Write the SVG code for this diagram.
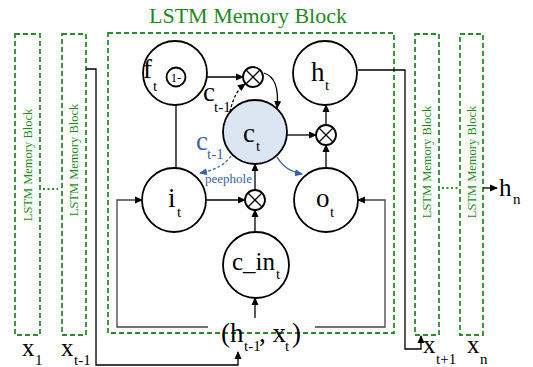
<svg xmlns="http://www.w3.org/2000/svg" width="533" height="367" viewBox="0 0 533 367">
<defs>
<marker id="ah" markerWidth="8" markerHeight="8" refX="7" refY="4" orient="auto" markerUnits="userSpaceOnUse"><path d="M0,0.5 L8,4 L0,7.5 z" fill="#000"/></marker>
<marker id="ahb" markerWidth="8" markerHeight="8" refX="7" refY="4" orient="auto" markerUnits="userSpaceOnUse"><path d="M0,0.5 L8,4 L0,7.5 z" fill="#3a62a8"/></marker>
<style>
.blk{fill:none;stroke:#2b8c2b;stroke-width:1.8;stroke-dasharray:5,3}
.gt{fill:#1d8a1d;font-family:"Liberation Serif",serif}
.node{fill:#fff;stroke:#000;stroke-width:1.8}
.t{font-family:"Liberation Serif",serif;fill:#000}
.m{font-size:27px}
.s{font-size:15px}
.ln{fill:none;stroke:#000;stroke-width:1.3}
.fb{fill:none;stroke:#444;stroke-width:1.3}
.bl{fill:#3a62a8;font-family:"Liberation Serif",serif}
</style>
</defs>

<g id="block-main">
<rect class="blk" x="108" y="33" width="286" height="300"/>
<text class="gt" x="248" y="23" font-size="22" text-anchor="middle">LSTM Memory Block</text>
</g>
<g id="block-1"><rect class="blk" x="15" y="34" width="25" height="301"/><text class="gt" font-size="12.5" text-anchor="middle" transform="translate(32,165) rotate(-90)">LSTM Memory Block</text></g>
<g id="block-2"><rect class="blk" x="62" y="34" width="24" height="301"/><text class="gt" font-size="12.5" text-anchor="middle" transform="translate(78,160) rotate(-90)">LSTM Memory Block</text></g>
<g id="block-3"><rect class="blk" x="415" y="34" width="24" height="301"/><text class="gt" font-size="12.5" text-anchor="middle" transform="translate(431,162) rotate(-90)">LSTM Memory Block</text></g>
<g id="block-4"><rect class="blk" x="460" y="34" width="23" height="301"/><text class="gt" font-size="12.5" text-anchor="middle" transform="translate(476,162) rotate(-90)">LSTM Memory Block</text></g>
<g id="dots">
<line x1="43" y1="189" x2="58" y2="189" stroke="#2b8c2b" stroke-width="2" stroke-dasharray="2,2.5"/>
<line x1="442" y1="188" x2="458" y2="188" stroke="#2b8c2b" stroke-width="2" stroke-dasharray="2,2.5"/>
</g>

<g id="connectors">
<line class="ln" x1="187" y1="77" x2="243" y2="77" marker-end="url(#ah)"/>
<line class="ln" x1="176" y1="86" x2="176" y2="168"/>
<path class="ln" d="M230,112 Q234,92 245,84" stroke-dasharray="3,2" marker-end="url(#ah)"/>
<path class="ln" d="M264,73 Q280,78 277,108" marker-end="url(#ah)"/>
<line class="ln" x1="287" y1="135" x2="316" y2="135" marker-end="url(#ah)"/>
<line class="ln" x1="326" y1="125" x2="326" y2="105" marker-end="url(#ah)"/>
<line class="ln" x1="326" y1="168" x2="326" y2="145" marker-end="url(#ah)"/>
<line class="ln" x1="207" y1="200" x2="245" y2="200" marker-end="url(#ah)"/>
<line class="ln" x1="255" y1="190" x2="255" y2="164" marker-end="url(#ah)"/>
<line class="ln" x1="255" y1="232" x2="255" y2="210" marker-end="url(#ah)"/>
<line class="ln" x1="255" y1="318" x2="255" y2="298" marker-end="url(#ah)"/>
<path d="M231,156 Q222,169 200,173" fill="none" stroke="#3a62a8" stroke-width="1.3" stroke-dasharray="3,2" marker-end="url(#ahb)"/>
<path d="M277,157 Q285,171 302,174" fill="none" stroke="#3a62a8" stroke-width="1.3" marker-end="url(#ahb)"/>
<path class="fb" d="M208,327 H117 V200 H142" marker-end="url(#ah)"/>
<path class="fb" d="M315,327 H385 V200 H358" marker-end="url(#ah)"/>
<path class="ln" d="M358,70 H405 V349 H421 V336" marker-end="url(#ah)"/>
<path class="ln" d="M86,69 H96 V365 H238 V352" marker-end="url(#ah)"/>
<line class="ln" x1="483" y1="188" x2="497" y2="188" marker-end="url(#ah)"/>
</g>

<g id="f_t"><circle class="node" cx="175" cy="73" r="32"/><text class="t m" x="143" y="78">f</text><text class="t s" x="153" y="91">t</text></g>
<g id="one-minus"><circle class="node" cx="176" cy="77" r="9.5"/><text class="t" x="176" y="81.5" font-size="12.5" text-anchor="middle">1-</text></g>
<g id="h_t"><circle class="node" cx="325" cy="73" r="32"/><text class="t m" x="311" y="81">h</text><text class="t s" x="325" y="90">t</text></g>
<g id="c_t"><circle cx="255" cy="132" r="32" fill="#dce6f2" stroke="#000" stroke-width="1.8"/><text class="t m" x="243" y="142">c</text><text class="t s" x="256" y="151">t</text></g>
<g id="i_t"><circle class="node" cx="174" cy="200" r="32"/><text class="t m" x="168" y="207">i</text><text class="t s" x="177" y="217">t</text></g>
<g id="o_t"><circle class="node" cx="326" cy="200" r="32"/><text class="t m" x="316" y="207">o</text><text class="t s" x="330" y="217">t</text></g>
<g id="c_in_t"><circle class="node" cx="256" cy="265" r="33"/><text class="t" font-size="25" x="232" y="270">c_in</text><text class="t s" x="276" y="279">t</text></g>
<g id="mult-top"><circle class="node" cx="253" cy="77" r="10"/><path class="ln" d="M246,70 L260,84 M260,70 L246,84"/></g>
<g id="mult-right"><circle class="node" cx="326" cy="135" r="10"/><path class="ln" d="M319,128 L333,142 M333,128 L319,142"/></g>
<g id="mult-bottom"><circle class="node" cx="255" cy="200" r="10"/><path class="ln" d="M248,193 L262,207 M262,193 L248,207"/></g>

<g id="labels">
<text class="t m" x="203" y="101">c</text><text class="t s" x="214" y="112">t-1</text>
<text class="bl" font-size="27" x="196" y="150">c</text><text class="bl" font-size="15" x="207" y="159">t-1</text>
<text class="bl" font-size="13" x="205" y="183">peephole</text>
<text class="t m" x="221" y="342">(h</text><text class="t s" x="244" y="351">t-1</text><text class="t m" x="259" y="342">, x</text><text class="t s" x="285" y="351">t</text><text class="t m" x="292" y="342">)</text>
<text class="t" font-size="25" x="22" y="356">x</text><text class="t s" x="35" y="365">1</text>
<text class="t" font-size="25" x="61" y="356">x</text><text class="t s" x="74" y="365">t-1</text>
<text class="t" font-size="25" x="423" y="353">x</text><text class="t s" x="436" y="364">t+1</text>
<text class="t" font-size="25" x="467" y="353">x</text><text class="t s" x="480" y="364">n</text>
<text class="t" font-size="25" x="499" y="196">h</text><text class="t s" x="513" y="204">n</text>
</g>
</svg>
